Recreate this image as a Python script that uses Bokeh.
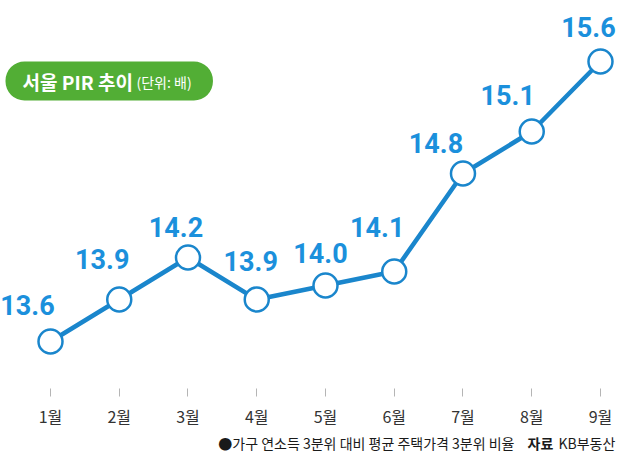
from bokeh.plotting import figure
from bokeh.models import ColumnDataSource, FixedTicker, Label, Range1d
from bokeh.core.properties import value
from bokeh.embed import file_html
from bokeh.resources import INLINE

# ---- data ----
months = [1, 2, 3, 4, 5, 6, 7, 8, 9]
month_labels = ["1월", "2월", "3월", "4월", "5월", "6월", "7월", "8월", "9월"]
pir = [13.6, 13.9, 14.2, 13.9, 14.0, 14.1, 14.8, 15.1, 15.6]
pir_text = ["13.6", "13.9", "14.2", "13.9", "14.0", "14.1", "14.8", "15.1", "15.6"]

# label placement offsets (screen px, style only)
label_dx = [-23, -17, -12, -6, -5, -17, -27, -24, -12]
label_dy = [-36, -40, -30, -38, -32, -44, -30, -36, -34]

BLUE_LINE = "#1a86cc"
BLUE_TEXT = "#1b90dc"
GREEN = "#52ae35"
KR = "Noto Sans CJK KR"

W, H = 640, 471
Y_TOP, Y_BOTTOM = 16.0357, 12.6714
AXIS_AT = 13.2643  # axis baseline value (pixel row ~388)

p = figure(width=W, height=H, output_backend="svg", toolbar_location=None,
           x_range=Range1d(0.2727, 9.582), y_range=Range1d(Y_BOTTOM, Y_TOP),
           min_border=0)
p.outline_line_color = None
p.grid.visible = False
p.yaxis.visible = False
p.background_fill_color = "white"
p.border_fill_color = "white"

ax = p.xaxis[0]
ax.fixed_location = AXIS_AT
ax.ticker = FixedTicker(ticks=months)
ax.major_label_overrides = {m: l for m, l in zip(months, month_labels)}
ax.axis_line_color = None
ax.minor_tick_line_color = None
ax.major_tick_in = 0
ax.major_tick_out = 8
ax.major_tick_line_color = "#b5b5b5"
ax.major_tick_line_width = 1
ax.major_label_standoff = 8
ax.major_label_text_font = KR
ax.major_label_text_font_size = "16px"
ax.major_label_text_color = "#333333"

src = ColumnDataSource(dict(x=months, y=pir, t=pir_text, dx=label_dx, dy=label_dy))

p.line("x", "y", source=src, line_color=BLUE_LINE, line_width=4.5)
p.scatter("x", "y", source=src, size=24, fill_color="white",
          line_color=BLUE_LINE, line_width=2.5)
p.text("x", "y", text="t", source=src, x_offset="dx", y_offset="dy",
       text_font=value("Roboto"), text_font_style="bold", text_font_size="27px",
       text_color=BLUE_TEXT, text_align="center", text_baseline="middle")

# title pill (screen units from frame bottom-left = canvas bottom-left)
pill = Label(x=5, y=H - 80.5, x_units="screen", y_units="screen",
             text="서울 PIR 추이", text_font=KR, text_font_style="bold",
             text_font_size="19px", text_color="white", text_baseline="middle",
             background_fill_color=GREEN, border_radius=19,
             padding=dict(left=17, right=80, top=6, bottom=6))
p.add_layout(pill)
unit = Label(x=136, y=H - 81.5, x_units="screen", y_units="screen",
             text="(단위: 배)", text_font=KR, text_font_size="14px",
             text_color="white", text_baseline="middle")
p.add_layout(unit)

# footnote
FY = H - 442
note = Label(x=514, y=FY, x_units="screen", y_units="screen",
             text="●가구 연소득 3분위 대비 평균 주택가격 3분위 비율", text_font=KR,
             text_font_size="14px", text_color="#1a1a1a", text_align="right",
             text_baseline="middle")
p.add_layout(note)
src_lbl = Label(x=527, y=FY, x_units="screen", y_units="screen",
                text="자료", text_font=KR, text_font_style="bold",
                text_font_size="14px", text_color="#1a1a1a", text_baseline="middle")
p.add_layout(src_lbl)
src_name = Label(x=558, y=FY, x_units="screen", y_units="screen",
                 text="KB부동산", text_font=KR, text_font_size="14px",
                 text_color="#1a1a1a", text_baseline="middle")
p.add_layout(src_name)

open("out.html", "w").write(file_html(p, INLINE))
